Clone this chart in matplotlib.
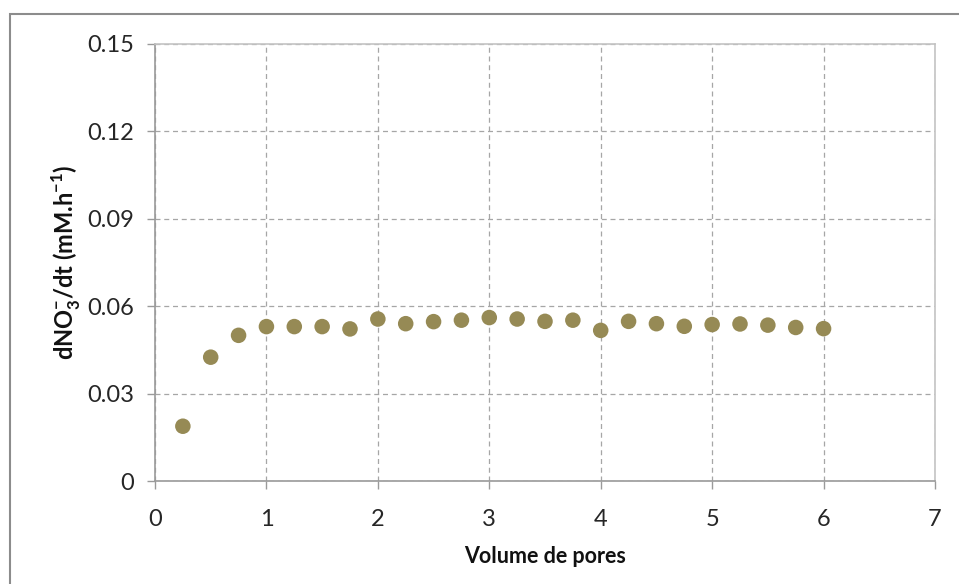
import matplotlib
matplotlib.use("Agg")
import matplotlib.pyplot as plt
from matplotlib.patches import Rectangle

volume_pores = [0.25, 0.5, 0.75, 1.0, 1.25, 1.5, 1.75, 2.0, 2.25, 2.5, 2.75, 3.0,
                3.25, 3.5, 3.75, 4.0, 4.25, 4.5, 4.75, 5.0, 5.25, 5.5, 5.75, 6.0]
dno3_dt = [0.0188, 0.0425, 0.0500, 0.0530, 0.0530, 0.0530, 0.0522, 0.0556, 0.0540,
           0.0547, 0.0552, 0.0561, 0.0556, 0.0548, 0.0552, 0.0517, 0.0548, 0.0540,
           0.0531, 0.0537, 0.0539, 0.0535, 0.0527, 0.0523]
x_ticks = [0, 1, 2, 3, 4, 5, 6, 7]
y_ticks = [0, 0.03, 0.06, 0.09, 0.12, 0.15]
y_tick_labels = ["0", "0.03", "0.06", "0.09", "0.12", "0.15"]

plt.rcParams['font.family'] = ['Lato', 'DejaVu Sans']
plt.rcParams['mathtext.fontset'] = 'custom'
plt.rcParams['mathtext.rm'] = 'Lato'
plt.rcParams['mathtext.bf'] = 'Lato:bold'

W, H = 959, 584
fig = plt.figure(figsize=(W / 100, H / 100), dpi=100)
ax = fig.add_axes([155 / W, 1 - 481 / H, (935 - 155) / W, (481 - 44) / H])

# outer chart border (cropped at right/bottom)
fig.patches.append(Rectangle((10 / W, -0.1), 1.2, 1 - 14 / H + 0.1,
                             transform=fig.transFigure, fill=False,
                             edgecolor='#8c8c8c', linewidth=1.5, zorder=0))

ax.scatter(volume_pores, dno3_dt, s=125, color='#968A55', edgecolors='none',
           zorder=3, clip_on=False)

ax.set_xlim(0, 7)
ax.set_ylim(0, 0.15)
ax.set_xticks(x_ticks)
ax.set_xticklabels([str(t) for t in x_ticks])
ax.set_yticks(y_ticks)
ax.set_yticklabels(y_tick_labels)

ax.grid(True, linestyle=(0, (4, 3)), color='#a6a6a6', linewidth=0.9)
ax.set_axisbelow(True)

for side in ['top', 'right']:
    ax.spines[side].set_color('#c4c4c4')
    ax.spines[side].set_linewidth(1.2)
for side in ['left', 'bottom']:
    ax.spines[side].set_color('#9a9a9a')
    ax.spines[side].set_linewidth(1.2)

ax.tick_params(axis='both', direction='out', length=6, width=1, color='#9a9a9a',
               labelsize=17, labelcolor='#262626')
ax.tick_params(axis='x', pad=14)
ax.tick_params(axis='y', pad=9)

ax.set_xlabel('Volume de pores', fontsize=15.5, fontweight='bold', labelpad=12,
              color='#111111')
ax.set_ylabel(r'dNO$_\mathbf{3}^{\mathbf{-}}$/dt (mM.h$^{\mathbf{-1}}$)', fontsize=17,
              fontweight='bold', labelpad=3, color='#111111')

fig.savefig('out.png', dpi=100)
